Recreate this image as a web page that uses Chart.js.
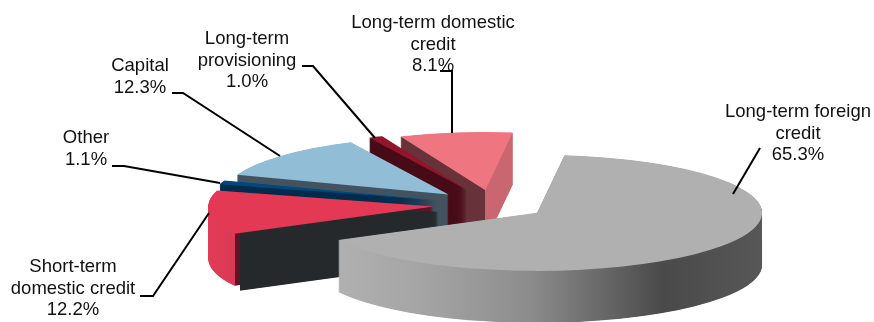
<!DOCTYPE html>
<html>
<head>
<meta charset="utf-8">
<style>
  html, body { margin: 0; padding: 0; background: #fff; }
  canvas { display: block; }
</style>
<script src="https://cdn.jsdelivr.net/npm/chart.js@4/dist/chart.umd.min.js"></script>
</head>
<body>
<canvas id="chart1" width="874" height="322"></canvas>
<script>
const categories = [
  ['Long-term foreign', 'credit'],
  ['Short-term', 'domestic credit'],
  ['Other'],
  ['Capital'],
  ['Long-term', 'provisioning'],
  ['Long-term domestic', 'credit']
];
const shares = [65.3, 12.2, 1.1, 12.3, 1.0, 8.1];

const topColors = ['#b0b0b0', '#e43955', '#00497f', '#92bdd7', '#93152b', '#ef7681'];
const explode = [53.5, 60, 60, 60, 64, 58];

// wall colours, x is px from the slice tip
const wallStops = [
  [[-225, '#b4b4b4'], [-107, '#a3a3a3'], [-7, '#8c8c8c'], [126, '#4a4a4a'], [225, '#575757']],
  [[-225, '#e23b57'], [-198, '#d93a55'], [-198, '#5e1425'], [225, '#5e1425']],
  [[-225, '#012b4d'], [225, '#012b4d']],
  [[-225, '#42525f'], [225, '#42525f']],
  [[-225, '#470b17'], [225, '#470b17']],
  [[-225, '#67323a'], [0, '#67323a'], [0, '#c96670'], [225, '#c96670']]
];
// the dark face under the short-term slice
const innerFace = { index: 1, shift: 5, from: -198, color: '#25292b' };

const labelSpots = [
  { x: 798, y: 112, line: [[760, 148], [733, 194]] },
  { x: 73, y: 267, line: [[140, 296], [153, 296], [209, 213]] },
  { x: 86, y: 138, line: [[112, 166], [124, 166], [220, 183]] },
  { x: 140, y: 66, line: [[172, 93], [183, 93], [280, 156]] },
  { x: 247, y: 39, line: [[302, 66], [313, 66], [375, 138]] },
  { x: 433, y: 23, line: [[440, 71], [452, 71], [452, 133]] }
];

const squash = 0.258;
const depth = 52;
const drawOrder = [5, 4, 3, 2, 1, 0];

function wallFill(ctx, arc, stops) {
  const r = arc.outerRadius;
  const g = ctx.createLinearGradient(arc.x - r, 0, arc.x + r, 0);
  stops.forEach(function (s) {
    g.addColorStop((s[0] + r) / (2 * r), s[1]);
  });
  return g;
}

function paintArc(ctx, arc, fill) {
  const copy = Object.create(arc);
  copy.options = {
    backgroundColor: fill, borderColor: 'transparent', borderWidth: 0,
    borderRadius: 0, offset: 0, spacing: 0, borderAlign: 'center', circular: true
  };
  copy.draw(ctx);
}

function paintExtrusion(ctx, arc, fill, dx, dy) {
  for (let d = depth; d >= 0.5; d -= 0.5) {
    ctx.save();
    ctx.translate(dx, (d + dy) / squash);
    paintArc(ctx, arc, fill);
    ctx.restore();
  }
}

const pie3d = {
  id: 'pie3d',
  beforeDatasetsDraw(chart) {
    const ctx = chart.ctx;
    const arcs = chart.getDatasetMeta(0).data;
    drawOrder.forEach(function (i) {
      const arc = arcs[i];
      const mid = (arc.startAngle + arc.endAngle) / 2;
      ctx.save();
      ctx.translate(0, arc.y);
      ctx.scale(1, squash);
      ctx.translate(0, -arc.y);
      ctx.translate(Math.cos(mid) * explode[i], Math.sin(mid) * explode[i]);
      paintExtrusion(ctx, arc, wallFill(ctx, arc, wallStops[i]), 0, 0);
      if (innerFace.index === i) {
        const face = wallFill(ctx, arc, [
          [-225, 'rgba(37,41,43,0)'], [innerFace.from, 'rgba(37,41,43,0)'],
          [innerFace.from, innerFace.color], [225, innerFace.color]
        ]);
        paintExtrusion(ctx, arc, face, innerFace.shift, innerFace.shift);
      }
      paintArc(ctx, arc, topColors[i]);
      ctx.restore();
    });
    return false;
  }
};

const sliceLabels = {
  id: 'sliceLabels',
  afterDraw(chart) {
    const ctx = chart.ctx;
    ctx.save();
    ctx.fillStyle = '#111';
    ctx.font = '18.5px "Liberation Sans", Arial, sans-serif';
    ctx.textAlign = 'center';
    ctx.textBaseline = 'middle';
    ctx.strokeStyle = '#000';
    ctx.lineWidth = 2;
    categories.forEach(function (lines, i) {
      const spot = labelSpots[i];
      lines.concat(shares[i].toFixed(1) + '%').forEach(function (text, n) {
        ctx.fillText(text, spot.x, spot.y + n * 21.6);
      });
      ctx.beginPath();
      spot.line.forEach(function (p, n) {
        if (n === 0) ctx.moveTo(p[0], p[1]);
        else ctx.lineTo(p[0], p[1]);
      });
      ctx.stroke();
    });
    ctx.restore();
  }
};

const chart1 = new Chart(document.getElementById('chart1'), {
  type: 'pie',
  data: {
    labels: categories.map(function (c) { return c.join(' '); }),
    datasets: [{
      data: shares,
      backgroundColor: topColors,
      borderWidth: 0,
      radius: 225,
      rotation: 7
    }]
  },
  options: {
    responsive: false,
    animation: false,
    layout: { padding: { left: 112, top: 88, right: 0, bottom: 0 } },
    plugins: {
      legend: { display: false },
      tooltip: { enabled: false }
    }
  },
  plugins: [pie3d, sliceLabels]
});
</script>
</body>
</html>
